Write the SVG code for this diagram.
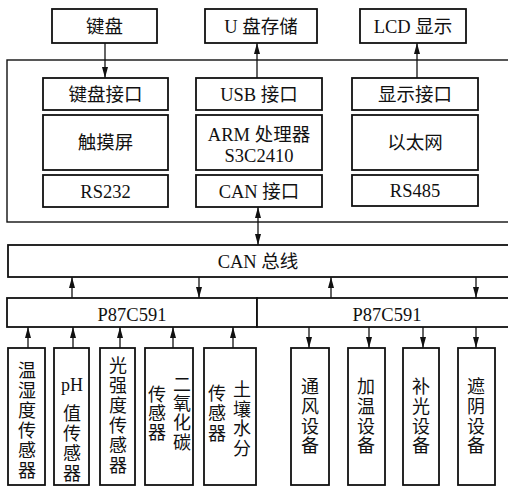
<svg xmlns="http://www.w3.org/2000/svg" width="508" height="487" viewBox="0 0 508 487">
<style>
.b{fill:#fff;stroke:#111;stroke-width:1.8}
.o{fill:none;stroke:#111;stroke-width:1.4}
.t{font-family:"Liberation Serif","Noto Sans CJK SC",serif;font-size:18.5px;fill:#111;text-anchor:middle}
.v{font-family:"Liberation Serif","Noto Sans CJK SC",serif;font-size:18px;fill:#111;text-anchor:middle}
.c line{stroke:#111;stroke-width:1.3}
</style>
<defs>
<marker id="ah" viewBox="0 0 11 6" refX="11" refY="3" markerWidth="11" markerHeight="6" markerUnits="userSpaceOnUse" orient="auto-start-reverse">
<path d="M0,0 L11,3 L0,6 z" fill="#111"/>
</marker>
</defs>
<rect width="508" height="487" fill="#fff"/>

<g id="outer"><rect class="o" x="7" y="60" width="506" height="162"/></g>

<g id="keyboard"><rect class="b" x="52" y="9" width="105" height="34"/><text class="t" x="104.5" y="33">键盘</text></g>
<g id="usb-storage"><rect class="b" x="205" y="9" width="112" height="34"/><text class="t" x="261" y="33">U 盘存储</text></g>
<g id="lcd"><rect class="b" x="360" y="9" width="106" height="34"/><text class="t" x="413" y="33">LCD 显示</text></g>

<g id="kb-if"><rect class="b" x="43" y="78" width="125" height="32"/><text class="t" x="105.5" y="101">键盘接口</text></g>
<g id="touch"><rect class="b" x="43" y="115" width="125" height="55"/><text class="t" x="105.5" y="149">触摸屏</text></g>
<g id="rs232"><rect class="b" x="43" y="175" width="125" height="32"/><text class="t" x="105.5" y="198">RS232</text></g>

<g id="usb-if"><rect class="b" x="196" y="78" width="126" height="32"/><text class="t" x="259" y="101">USB 接口</text></g>
<g id="arm"><rect class="b" x="196" y="115" width="126" height="55"/><text class="t" x="259" y="141">ARM 处理器</text><text class="t" x="259" y="162">S3C2410</text></g>
<g id="can-if"><rect class="b" x="196" y="175" width="126" height="32"/><text class="t" x="259" y="198">CAN 接口</text></g>

<g id="disp-if"><rect class="b" x="352" y="78" width="126" height="32"/><text class="t" x="415" y="101">显示接口</text></g>
<g id="ethernet"><rect class="b" x="352" y="115" width="126" height="55"/><text class="t" x="415" y="149">以太网</text></g>
<g id="rs485"><rect class="b" x="352" y="175" width="126" height="31"/><text class="t" x="415" y="197">RS485</text></g>

<g id="can-bus"><rect class="b" x="8" y="245" width="505" height="32"/><text class="t" x="258" y="268">CAN 总线</text></g>
<g id="p87-left"><rect class="b" x="7" y="298" width="250" height="29"/><text class="t" x="132" y="321">P87C591</text></g>
<g id="p87-right"><rect class="b" x="257" y="298" width="256" height="29"/><text class="t" x="387" y="321">P87C591</text></g>

<g id="s1"><rect class="b" x="8" y="348" width="37" height="137"/><text class="v"><tspan x="27" y="377">温</tspan><tspan x="27" y="397">湿</tspan><tspan x="27" y="417">度</tspan><tspan x="27" y="437">传</tspan><tspan x="27" y="457">感</tspan><tspan x="27" y="477">器</tspan></text></g>
<g id="s2"><rect class="b" x="54" y="348" width="35" height="137"/><text class="v"><tspan x="72" y="391">pH</tspan><tspan x="72" y="420">值</tspan><tspan x="72" y="440">传</tspan><tspan x="72" y="460">感</tspan><tspan x="72" y="480">器</tspan></text></g>
<g id="s3"><rect class="b" x="100" y="348" width="35" height="137"/><text class="v"><tspan x="118" y="372">光</tspan><tspan x="118" y="392">强</tspan><tspan x="118" y="412">度</tspan><tspan x="118" y="432">传</tspan><tspan x="118" y="452">感</tspan><tspan x="118" y="472">器</tspan></text></g>
<g id="s4"><rect class="b" x="145" y="348" width="48" height="137"/><text class="v"><tspan x="182" y="391">二</tspan><tspan x="182" y="410">氧</tspan><tspan x="182" y="429">化</tspan><tspan x="182" y="449">碳</tspan><tspan x="157" y="401">传</tspan><tspan x="157" y="420">感</tspan><tspan x="157" y="439">器</tspan></text></g>
<g id="s5"><rect class="b" x="204" y="348" width="52" height="137"/><text class="v"><tspan x="242" y="396">土</tspan><tspan x="242" y="416">壤</tspan><tspan x="242" y="435">水</tspan><tspan x="242" y="455">分</tspan><tspan x="217" y="400">传</tspan><tspan x="217" y="420">感</tspan><tspan x="217" y="440">器</tspan></text></g>

<g id="a1"><rect class="b" x="291" y="348" width="38" height="137"/><text class="v"><tspan x="310" y="393">通</tspan><tspan x="310" y="413">风</tspan><tspan x="310" y="433">设</tspan><tspan x="310" y="452">备</tspan></text></g>
<g id="a2"><rect class="b" x="348" y="348" width="37" height="137"/><text class="v"><tspan x="366" y="393">加</tspan><tspan x="366" y="413">温</tspan><tspan x="366" y="433">设</tspan><tspan x="366" y="452">备</tspan></text></g>
<g id="a3"><rect class="b" x="403" y="348" width="36" height="137"/><text class="v"><tspan x="421" y="393">补</tspan><tspan x="421" y="413">光</tspan><tspan x="421" y="433">设</tspan><tspan x="421" y="452">备</tspan></text></g>
<g id="a4"><rect class="b" x="458" y="348" width="37" height="137"/><text class="v"><tspan x="476" y="393">遮</tspan><tspan x="476" y="413">阴</tspan><tspan x="476" y="433">设</tspan><tspan x="476" y="452">备</tspan></text></g>

<g id="connectors" class="c">
<line x1="105" y1="43" x2="105" y2="78" marker-end="url(#ah)"/>
<line x1="257" y1="78" x2="257" y2="43" marker-end="url(#ah)"/>
<line x1="417" y1="78" x2="417" y2="43" marker-end="url(#ah)"/>
<line x1="258" y1="207" x2="258" y2="245" marker-start="url(#ah)" marker-end="url(#ah)"/>
<line x1="72" y1="298" x2="72" y2="277" marker-end="url(#ah)"/>
<line x1="199" y1="277" x2="199" y2="298" marker-end="url(#ah)"/>
<line x1="331" y1="298" x2="331" y2="277" marker-end="url(#ah)"/>
<line x1="476" y1="277" x2="476" y2="298" marker-end="url(#ah)"/>
<line x1="28" y1="348" x2="28" y2="327" marker-end="url(#ah)"/>
<line x1="73" y1="348" x2="73" y2="327" marker-end="url(#ah)"/>
<line x1="120" y1="348" x2="120" y2="327" marker-end="url(#ah)"/>
<line x1="173" y1="348" x2="173" y2="327" marker-end="url(#ah)"/>
<line x1="233" y1="348" x2="233" y2="327" marker-end="url(#ah)"/>
<line x1="309" y1="327" x2="309" y2="348" marker-end="url(#ah)"/>
<line x1="369" y1="327" x2="369" y2="348" marker-end="url(#ah)"/>
<line x1="423" y1="327" x2="423" y2="348" marker-end="url(#ah)"/>
<line x1="476" y1="327" x2="476" y2="348" marker-end="url(#ah)"/>
</g>
</svg>
